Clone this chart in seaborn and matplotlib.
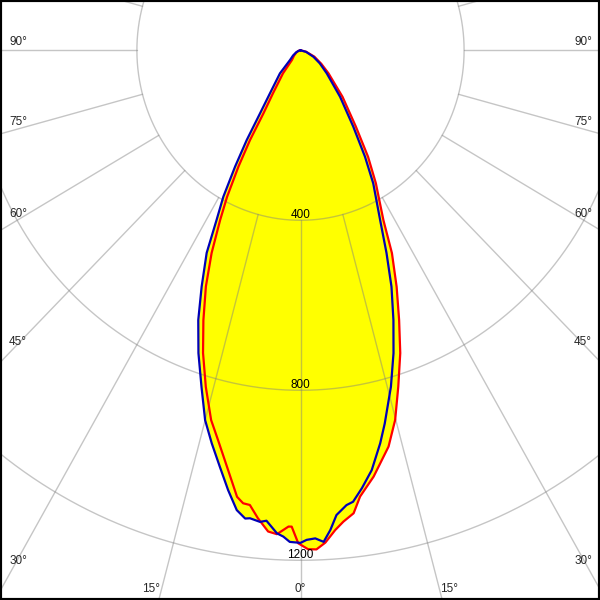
import numpy as np
import pandas as pd
import matplotlib
matplotlib.use("Agg")
import matplotlib.pyplot as plt
import seaborn as sns

# ---- data (angle from nadir in degrees, negative = left; intensity in cd) ----
blue_angles = [-90, -75, -65, -56, -48.4, -42.8, -36.4, -33.7, -31.9, -30.3, -28.7, -27.2, -25.7,
               -23.5, -21.5, -19.3, -17.0, -15.0, -13.2, -11.4, -9.7, -8.2, -7.0, -6.4, -5.1,
               -4.3, -2.9, -2.1, -1.3, 0, 0.75, 1.8, 2.8, 3.7, 4.6, 6.0, 6.9, 8.3, 10.0, 11.9,
               13.2, 15.6, 17.7, 19.7, 21.8, 23.8, 26.0, 29.6, 32.2, 35.7, 41.5, 49.8, 57, 64.3, 75, 90]
blue_cd = [0, 5, 12, 22, 34, 74, 126, 178, 249, 317, 393, 449, 529,
           606, 682, 755, 828, 901, 950, 999, 1050, 1093, 1110, 1108, 1114,
           1110, 1138, 1145, 1157, 1159, 1152, 1149, 1158, 1131, 1097, 1076, 1070, 1041, 1003, 945,
           902, 822, 748, 674, 599, 521, 444, 360, 296, 221, 146, 84, 56, 35, 14, 0]

red_angles = [-90, -75, -64, -52, -42.4, -38.3, -33.6, -31.4, -30.3, -29.0, -27.5, -26.2, -24.5,
              -22.6, -20.5, -18.5, -16.3, -14.1, -12.4, -10.4, -8.4, -7.5, -6.6, -5.4, -4.0,
              -2.9, -1.5, -1.1, -0.27, 0.9, 1.9, 3.0, 4.3, 5.4, 6.8, 7.9, 10.1, 13.0, 14.9,
              16.8, 18.9, 20.8, 22.9, 25.1, 26.9, 30.5, 33.4, 37.0, 43.2, 51.7, 58, 66.2, 76, 90]
red_cd = [0, 5, 11, 20, 31, 69, 122, 174, 245, 313, 389, 445, 524,
          602, 678, 751, 825, 897, 939, 996, 1062, 1075, 1077, 1106, 1135,
          1140, 1121, 1121, 1160, 1174, 1175, 1160, 1132, 1114, 1097, 1060, 1019, 957, 900,
          827, 753, 679, 604, 527, 448, 363, 300, 225, 150, 87, 60, 37, 14, 0]

ring_values = [400, 800, 1200]
ring_labels = ["400", "800", "1200"]
spoke_angles = list(range(0, 360, 15))
left_labels = ["90°", "75°", "60°", "45°", "30°"]
bottom_labels = ["15°", "0°", "15°"]

# ---- style ----
sns.set_style("white")
plt.rcParams['font.family'] = ['Liberation Sans', 'DejaVu Sans']

def to_xy(ang, r):
    a = np.radians(np.asarray(ang, float))
    r = np.asarray(r, float)
    return r * np.sin(a), -r * np.cos(a)

W = H = 600
sx, sy = 0.409, 0.425        # pixels per cd (horizontal / vertical)
cx, cy = 300.5, 50.3         # pole position in pixels

fig = plt.figure(figsize=(6, 6), dpi=100)
ax = fig.add_axes([0, 0, 1, 1])

def px2data(px, py):
    return (px - cx) / sx, (cy - py) / sy

# yellow fill (union of both planes)
bx, by = to_xy(blue_angles, blue_cd)
rx, ry = to_xy(red_angles, red_cd)
ax.fill(bx, by, color='#ffff00', lw=0, zorder=1)
ax.fill(rx, ry, color='#ffff00', lw=0, zorder=1)

# grid
gc = (0.5, 0.5, 0.5)
t = np.linspace(0, 360, 1441)
for r in ring_values:
    x, y = to_xy(t, np.full_like(t, r))
    ax.plot(x, y, color=gc, alpha=0.45, lw=1, zorder=2)
for a in spoke_angles:
    x, y = to_xy([a, a], [ring_values[0], 4000])
    ax.plot(x, y, color=gc, alpha=0.45, lw=1, zorder=2)

# curves
df = pd.concat([
    pd.DataFrame({'x': rx, 'y': ry, 'plane': 'C90-C270'}),
    pd.DataFrame({'x': bx, 'y': by, 'plane': 'C0-C180'}),
], ignore_index=True)
sns.lineplot(data=df, x='x', y='y', hue='plane', sort=False, estimator=None,
             palette={'C0-C180': '#0000b8', 'C90-C270': '#ff0000'},
             linewidth=1.6, legend=False, ax=ax, zorder=3)
ax.set_xlim(-cx / sx, (W - cx) / sx)
ax.set_ylim(-(H - cy) / sy, cy / sy)
ax.axis('off')

# ring labels
for r, lab in zip(ring_values, ring_labels):
    ax.text(0, -r + 2.0 / sy, lab, ha='center', va='baseline', fontsize=8.5, color='black', zorder=4)

# angle labels
left_py = [42, 122, 214, 342, 561]
for lab, py in zip(left_labels, left_py):
    x, y = px2data(18, py)
    ax.text(x, y, lab, ha='center', va='center', fontsize=8.5, zorder=4)
    x, y = px2data(2 * cx - 18, py)
    ax.text(x, y, lab, ha='center', va='center', fontsize=8.5, zorder=4)
for lab, px in zip(bottom_labels, [151.5, 300, 449.5]):
    x, y = px2data(px, 589)
    ax.text(x, y, lab, ha='center', va='center', fontsize=8.5, zorder=4)

# frame
fig.add_artist(plt.Rectangle((0, 0), 1, 1, transform=fig.transFigure, fill=False,
                             ec='black', lw=3))

fig.savefig('out.png', dpi=100)
